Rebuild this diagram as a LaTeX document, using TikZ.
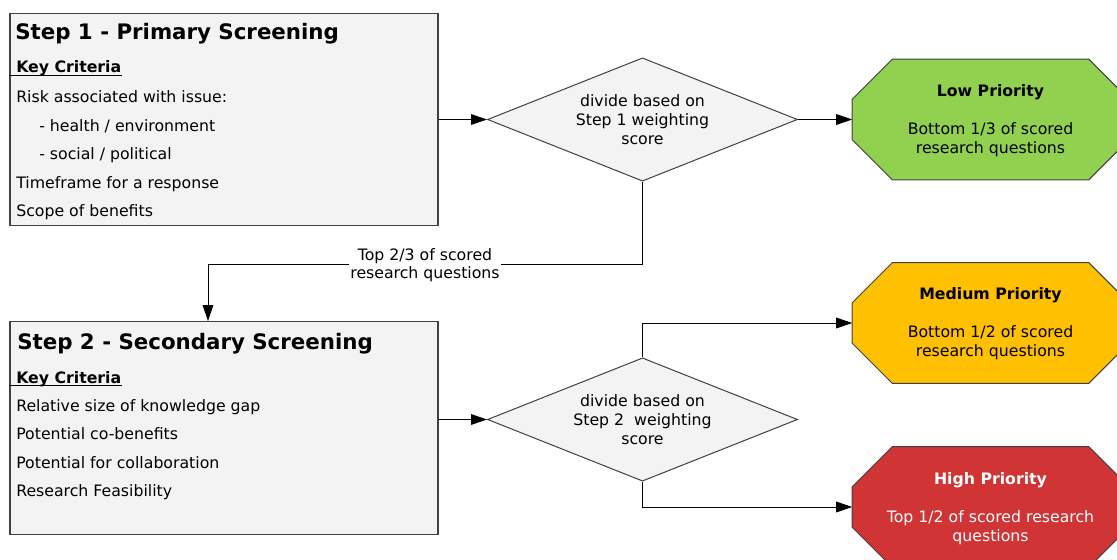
\documentclass[tikz,border=0pt]{standalone}
\usepackage{fontspec}
\setmainfont{DejaVu Sans}
\usetikzlibrary{arrows.meta,shapes.geometric,calc}

\definecolor{panel}{HTML}{F3F3F3}
\definecolor{edge}{HTML}{404040}
\definecolor{lowgreen}{HTML}{92D050}
\definecolor{midorange}{HTML}{FFC000}
\definecolor{highred}{HTML}{D03434}

\tikzset{
  body/.style={font=\fontsize{11.8pt}{14.25pt}\selectfont},
  stepbox/.style={draw=edge, fill=panel, line width=0.9pt,
    minimum width=321pt, minimum height=159.5pt, inner sep=0},
  steptitle/.style={anchor=base west, inner sep=0,
    font=\fontsize{16pt}{19pt}\selectfont\bfseries},
  crit/.style={anchor=base west, inner sep=0, body},
  crithead/.style={crit, font=\fontsize{11.8pt}{14.25pt}\selectfont\bfseries},
  uline/.style={draw=black, line width=0.75pt},
  decision/.style={diamond, draw=edge, fill=panel, line width=0.75pt,
    minimum width=232.5pt, minimum height=92.5pt, inner sep=0, aspect=2.5,
    align=center, body},
  priority/.style={rectangle, minimum width=207pt, minimum height=90pt, inner sep=0},
  prioritytext/.style={align=center, inner sep=0, body},
  flow/.style={draw=black, line width=0.75pt, -{Triangle[length=12pt,width=8pt]}},
  qlabel/.style={fill=white, align=center, inner sep=1pt,
    font=\fontsize{11.8pt}{13.5pt}\selectfont},
}

% octagon drawn on the corners of a sized rectangle node
\newcommand\octshape[2]{%
  \filldraw[fill=#2, draw=edge, line width=0.75pt]
    ($(#1.north west)+(30pt,0)$) -- ($(#1.north east)+(-30pt,0)$) --
    ($(#1.north east)+(0,-30pt)$) -- ($(#1.south east)+(0,30pt)$) --
    ($(#1.south east)+(-30pt,0)$) -- ($(#1.south west)+(30pt,0)$) --
    ($(#1.south west)+(0,30pt)$) -- ($(#1.north west)+(0,-30pt)$) -- cycle;}

\begin{document}
\begin{tikzpicture}[x=0.75pt, y=-0.75pt]
  \useasboundingbox (0,0) rectangle (1117,560);
  \clip (0,0) rectangle (1117,560);

  % step boxes
  \node[stepbox] (box1) at (224,119.5) {};
  \node[stepbox] (box2) at (224,428) {};

  \node[steptitle] (t1) at (15,40) {Step 1 - Primary Screening};
  \node[crithead] (kc1) at (16,73) {Key Criteria};
  \draw[uline] ([yshift=-1.6pt]kc1.base west -| box1.west) -- ([yshift=-1.6pt]kc1.base east);
  \node[crit] (c11) at (16,103) {Risk associated with issue:};
  \node[crit] (c12) at (39,131) {- health / environment};
  \node[crit] (c13) at (39,159) {- social / political};
  \node[crit] (c14) at (16,188) {Timeframe for a response};
  \node[crit] (c15) at (16,216) {Scope of benefits};

  \node[steptitle] (t2) at (17,349) {Step 2 - Secondary Screening};
  \node[crithead] (kc2) at (16,383) {Key Criteria};
  \draw[uline] ([yshift=-1.6pt]kc2.base west -| box2.west) -- ([yshift=-1.6pt]kc2.base east);
  \node[crit] (c21) at (16,411) {Relative size of knowledge gap};
  \node[crit] (c22) at (16,439) {Potential co-benefits};
  \node[crit] (c23) at (16,468) {Potential for collaboration};
  \node[crit] (c24) at (16,496) {Research Feasibility};

  % decisions
  \node[decision] (d1) at (642.5,119.5) {divide based on\\Step 1 weighting\\score};
  \node[decision] (d2) at (642.5,419.5) {divide based on\\Step 2\ \ weighting\\score};

  % outcomes
  \node[priority] (low) at (990.5,119.5) {};
  \node[priority] (mid) at (990.5,323) {};
  \node[priority] (high) at (990.5,507) {};
  \octshape{low}{lowgreen}
  \octshape{mid}{midorange}
  \octshape{high}{highred}
  \node[prioritytext] (lowtext) at (990.5,120.5)
    {\textbf{Low Priority}\\[14.25pt]Bottom 1/3 of scored\\research questions};
  \node[prioritytext] (midtext) at (990.5,323.5)
    {\textbf{Medium Priority}\\[14.25pt]Bottom 1/2 of scored\\research questions};
  \node[prioritytext, text=white] (hightext) at (990.5,508.5)
    {\textbf{High Priority}\\[14.25pt]Top 1/2 of scored research\\questions};

  % connectors
  \draw[flow] (box1.east |- d1.west) -- (d1.west);
  \draw[flow] (d1.east) -- (low.west);
  \coordinate (turn) at (208,264);
  \draw[flow] (d1.south) |- (turn) -- (turn |- box2.north);
  \node[qlabel] (split) at (425,265) {Top 2/3 of scored\\research questions};
  \draw[flow] (box2.east |- d2.west) -- (d2.west);
  \draw[flow] (d2.north) |- (mid.west);
  \draw[flow] (d2.south) |- (high.west);
\end{tikzpicture}
\end{document}
